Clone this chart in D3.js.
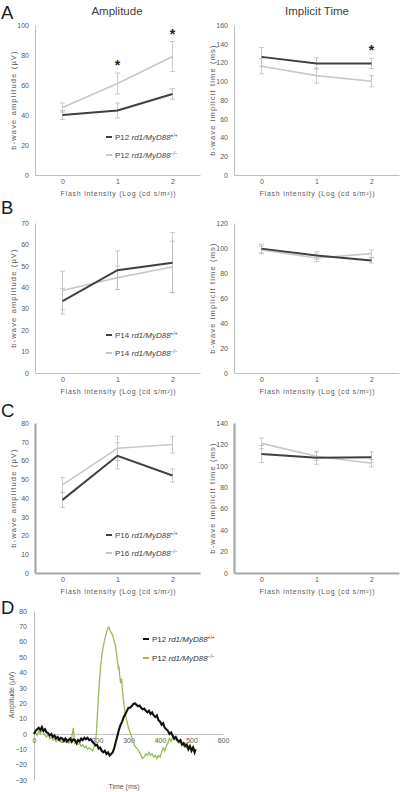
<!DOCTYPE html>
<html><head><meta charset="utf-8">
<script src="https://cdn.jsdelivr.net/npm/d3@7"></script>
<style>
body{margin:0;background:#fff;}
svg{display:block;font-family:"Liberation Sans",Arial,sans-serif;}
</style></head>
<body><svg id="c" width="400" height="792"></svg>
<script>
// ---------- data ----------
const categories = ['0','1','2'];
const xTitle = 'Flash intensity (Log (cd s/m²))';

const ticksAmpA = [0,20,40,60,80,100];
const ticksTimeA = [0,20,40,60,80,100,120,140,160];
const ticksAmpB = [0,10,20,30,40,50,60,70];
const ticksTimeB = [0,20,40,60,80,100,120];
const ticksAmpC = [0,10,20,30,40,50,60,70,80];
const ticksTimeC = [0,20,40,60,80,100,120,140];

const ampA_wt = [40, 43, 54],   ampA_wt_err = [3, 5, 3.5];
const ampA_ko = [45, 61, 79],   ampA_ko_err = [3, 7, 10];
const timeA_wt = [126, 119, 119], timeA_wt_err = [10, 6, 5.5];
const timeA_ko = [116, 106, 100], timeA_ko_err = [8, 8, 6];

const ampB_wt = [33.5, 48, 51.5], ampB_wt_err = [6, 9, 14];
const ampB_ko = [38.5, 44.5, 49.5], ampB_ko_err = [9, 5.5, 12];
const timeB_wt = [99.5, 94, 90], timeB_wt_err = [3.5, 3, 2];
const timeB_ko = [98.5, 92, 95.5], timeB_ko_err = [3, 3, 3];

const ampC_wt = [39, 62.5, 52], ampC_wt_err = [4, 7, 3.5];
const ampC_ko = [47, 66.5, 68.5], ampC_ko_err = [4, 6.5, 4.5];
const timeC_wt = [111, 107.5, 108], timeC_wt_err = [8, 6, 5];
const timeC_ko = [121, 109, 102.5], timeC_ko_err = [5, 4, 3.5];

const starsAmpA = [['1', 75], ['2', 96]];
const starsTimeA = [['2', 136]];

// panel D traces
const ticksD_y = [-30,-20,-10,0,10,20,30,40,50,60,70,80];
const ticksD_x = [0,100,200,300,400,500,600];
const wtTime = [0,5,10,15,20,25,30,35,40,45,50,55,60,65,70,75,80,85,90,95,100,105,110,115,120,125,130,135,140,145,150,155,160,165,170,175,180,185,190,195,200,205,210,215,220,225,230,235,240,245,250,255,260,265,270,275,280,285,290,295,300,305,310,315,320,325,330,335,340,345,350,355,360,365,370,375,380,385,390,395,400,405,410,415,420,425,430,435,440,445,450,455,460,465,470,475,480,485,490,495,500,505,510,513];
const wtAmp = [0,2,3,4,2.5,4.5,2,3,1,0.5,-1,0,-2,-1,-3,-2,-4,-2.5,-3,-4.5,-3,-5,-4,-3,-5,-3.5,-4,-6,-4,-5,-3,-4,-2.5,-3.5,-2.5,-4,-3.5,-5,-6,-7.5,-7,-9.5,-9,-11,-12,-11,-13,-12,-14,-13,-12,-9,-5,-1,3,6,8,11,13,15,17,17,18,19.5,20,19,18,18.5,17,16,16.5,15,14,15,13,14,12,11,12,9,8,6,7,4,3,2,0,1,-1,-3,-2,-4,-5,-4,-7,-6,-8,-7,-10,-8,-11,-9,-12,-10];
const koTime = [0,5,10,15,20,25,30,35,40,45,50,55,60,65,70,75,80,85,90,95,100,105,110,115,120,125,128,130,135,140,145,150,155,160,165,170,175,180,185,190,195,198,202,205,208,212,216,220,225,230,235,238,240,245,250,255,258,262,265,268,270,272,275,278,280,285,290,295,300,305,310,315,320,325,330,335,340,345,350,355,360,365,370,375,380,385,390,395,400,405,410,415,420,425,430,435,440,445,450,455,460,465,470,475,480,485,490,495,500,505,510];
const koAmp = [0,1,-1,2,0,3,1,-1,-2,0,-3,-2,-4,-3,-5,-4,-3,-5,-4,-3,-5,-4,-6,-3,-2,4,-4,-6,-5,-7,-6,-8,-7,-9,-8,-10,-9,-10,-11,-9,-5,0,15,25,35,45,52,57,62,66,69,69.5,68,66,64,60,58,52,47,42,44,38,33,36,30,20,13,8,4,1,-2,-5,-8,-9,-10,-12,-14,-16,-15,-13,-14,-12,-14,-13,-15,-14,-16,-14,-15,-12,-9,-11,-8,-6,-3,-5,-2,-4,-3,-5,-6,-5,-7,-8,-6,-9,-8,-10,-9,-8,-10];

// ---------- drawing ----------
const svg = d3.select('#c');
const TXT = '#595959';
const DARK = '#404040', LIGHT = '#c8c8c8', ERR = '#bdbdbd';

function legend(g, x, y, label, sup, color, lineColor) {
  g.append('line').attr('x1', x).attr('x2', x + 6).attr('y1', y).attr('y2', y)
    .attr('stroke', lineColor).attr('stroke-width', 2);
  const t = g.append('text').attr('x', x + 9).attr('y', y + 2.8)
    .attr('font-size', 8).attr('fill', color);
  t.append('tspan').text(label + ' ');
  t.append('tspan').attr('font-style', 'italic').text('rd1/MyD88');
  t.append('tspan').attr('font-size', 4.8).attr('dy', -3).text(sup);
}

function panel(o) {
  const g = svg.append('g');
  const x = d3.scalePoint().domain(categories).range([o.x0, o.x1]).padding(0.5);
  const y = d3.scaleLinear().domain([0, d3.max(o.ticks)]).range([o.yb, o.yt]);
  const aw = o.thick ? 2.2 : 1;
  const ac = o.thick ? '#a8a8a8' : '#bfbfbf';
  const ya = g.append('g').attr('transform', `translate(${o.x0},0)`)
    .call(d3.axisLeft(y).tickValues(o.ticks).tickSize(0).tickPadding(6));
  const xa = g.append('g').attr('transform', `translate(0,${o.yb})`)
    .call(d3.axisBottom(x).tickSize(0).tickPadding(4.5));
  [ya, xa].forEach(a => {
    a.select('.domain').attr('stroke', ac).attr('stroke-width', aw);
    a.selectAll('text').attr('fill', TXT).attr('font-size', 7)
      .attr('font-family', '"Liberation Sans",Arial,sans-serif');
  });
  g.append('text').attr('x', (o.x0 + o.x1) / 2 + 1).attr('y', o.yb + 21)
    .attr('text-anchor', 'middle').attr('font-size', 7).attr('letter-spacing', 0.75)
    .attr('fill', TXT).text(xTitle);
  g.append('text').attr('transform', `translate(${o.x0 - 19},${(o.yt + o.yb) / 2}) rotate(-90)`)
    .attr('text-anchor', 'middle').attr('font-size', 7.5).attr('letter-spacing', 1.15)
    .attr('fill', TXT).text(o.yTitle);
  const series = [
    {v: o.ko, e: o.koErr, c: LIGHT, w: 1.6},
    {v: o.wt, e: o.wtErr, c: DARK, w: 2}
  ];
  series.forEach(s => {
    categories.forEach((c, i) => {
      const cx = x(c);
      g.append('line').attr('x1', cx).attr('x2', cx)
        .attr('y1', y(s.v[i] - s.e[i])).attr('y2', y(s.v[i] + s.e[i]))
        .attr('stroke', ERR).attr('stroke-width', 0.8);
      [s.v[i] - s.e[i], s.v[i] + s.e[i]].forEach(v => {
        g.append('line').attr('x1', cx - 2.5).attr('x2', cx + 2.5)
          .attr('y1', y(v)).attr('y2', y(v)).attr('stroke', ERR).attr('stroke-width', 0.8);
      });
    });
  });
  series.forEach(s => {
    g.append('path').datum(s.v)
      .attr('d', d3.line().x((d, i) => x(categories[i])).y(d => y(d)))
      .attr('fill', 'none').attr('stroke', s.c).attr('stroke-width', s.w);
  });
  (o.stars || []).forEach(([c, v]) => {
    g.append('text').attr('x', x(c)).attr('y', y(v) + 7.5)
      .attr('text-anchor', 'middle').attr('font-size', 14).attr('font-weight', 'bold')
      .attr('fill', '#222').text('*');
  });
  if (o.leg) {
    legend(g, o.x0 + 71, o.yb - 38, o.leg, '+/+', DARK, DARK);
    legend(g, o.x0 + 71, o.yb - 20, o.leg, '−/−', DARK, LIGHT);
  }
}

const L = {x0: 35, x1: 200}, R = {x0: 234, x1: 399};
panel({...L, yt: 25, yb: 175, ticks: ticksAmpA, yTitle: 'b-wave amplitude (µV)',
  wt: ampA_wt, wtErr: ampA_wt_err, ko: ampA_ko, koErr: ampA_ko_err, stars: starsAmpA, leg: 'P12'});
panel({...R, yt: 25, yb: 175, ticks: ticksTimeA, yTitle: 'b-wave implicit time (ms)',
  wt: timeA_wt, wtErr: timeA_wt_err, ko: timeA_ko, koErr: timeA_ko_err, stars: starsTimeA});
panel({...L, yt: 223, yb: 373, ticks: ticksAmpB, yTitle: 'b-wave amplitude (µV)',
  wt: ampB_wt, wtErr: ampB_wt_err, ko: ampB_ko, koErr: ampB_ko_err, leg: 'P14'});
panel({...R, yt: 223, yb: 373, ticks: ticksTimeB, yTitle: 'b-wave implicit time (ms)',
  wt: timeB_wt, wtErr: timeB_wt_err, ko: timeB_ko, koErr: timeB_ko_err});
panel({...L, yt: 423, yb: 573, ticks: ticksAmpC, yTitle: 'b-wave amplitude (µV)', thick: true,
  wt: ampC_wt, wtErr: ampC_wt_err, ko: ampC_ko, koErr: ampC_ko_err, leg: 'P16'});
panel({...R, yt: 423, yb: 573, ticks: ticksTimeC, yTitle: 'b-wave implicit time (ms)', thick: true,
  wt: timeC_wt, wtErr: timeC_wt_err, ko: timeC_ko, koErr: timeC_ko_err});

// titles & panel letters
svg.append('text').attr('x', 117).attr('y', 15).attr('text-anchor', 'middle')
  .attr('font-size', 11.5).attr('fill', '#404040').text('Amplitude');
svg.append('text').attr('x', 317).attr('y', 15).attr('text-anchor', 'middle')
  .attr('font-size', 11.5).attr('fill', '#404040').text('Implicit Time');
[['A', 18.5], ['B', 214], ['C', 417], ['D', 614]].forEach(([t, yy]) => {
  svg.append('text').attr('x', 1).attr('y', yy).attr('font-size', 18.5).attr('fill', '#1a1a1a').text(t);
});

// panel D
(function () {
  const g = svg.append('g');
  const x = d3.scaleLinear().domain([0, 600]).range([34, 223]);
  const y = d3.scaleLinear().domain([-30, 80]).range([780, 611]);
  const ya = g.append('g').attr('transform', 'translate(34,0)')
    .call(d3.axisLeft(y).tickValues(ticksD_y).tickSize(0).tickPadding(7));
  const xa = g.append('g').attr('transform', `translate(0,${y(0)})`)
    .call(d3.axisBottom(x).tickValues(ticksD_x).tickSize(0).tickPadding(4));
  [ya, xa].forEach(a => {
    a.select('.domain').attr('stroke', '#bfbfbf').attr('stroke-width', 1);
    a.selectAll('text').attr('fill', TXT).attr('font-size', 7)
      .attr('font-family', '"Liberation Sans",Arial,sans-serif');
  });
  g.append('text').attr('x', 124).attr('y', 789).attr('text-anchor', 'middle')
    .attr('font-size', 7).attr('fill', TXT).text('Time (ms)');
  g.append('text').attr('transform', 'translate(14,695) rotate(-90)')
    .attr('text-anchor', 'middle').attr('font-size', 7).attr('fill', TXT).text('Amplitude (µV)');
  const line = d3.line().x(d => x(d[0])).y(d => y(d[1]));
  g.append('path').datum(koTime.map((t, i) => [t, koAmp[i]])).attr('d', line)
    .attr('fill', 'none').attr('stroke', '#9bbb59').attr('stroke-width', 1.3);
  g.append('path').datum(wtTime.map((t, i) => [t, wtAmp[i]])).attr('d', line)
    .attr('fill', 'none').attr('stroke', '#111').attr('stroke-width', 2.1);
  legend(g, 143, 639, 'P12', '+/+', '#333', '#111');
  legend(g, 143, 658, 'P12', '−/−', '#333', '#9bbb59');
})();
</script>
</body></html>
